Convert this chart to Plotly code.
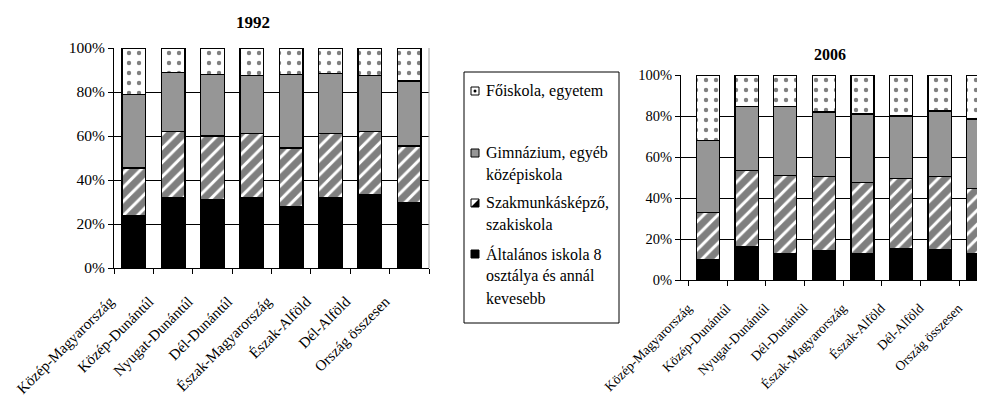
import plotly.graph_objects as go

W, H = 985, 405
OFF = 8  # page body margin in the browser

regions = ["Közép-Magyarország", "Közép-Dunántúl", "Nyugat-Dunántúl", "Dél-Dunántúl",
           "Észak-Magyarország", "Észak-Alföld", "Dél-Alföld", "Ország összesen"]

levels = ["Általános iskola 8 osztálya és annál kevesebb",
          "Szakmunkásképző, szakiskola",
          "Gimnázium, egyéb középiskola",
          "Főiskola, egyetem"]

# 1992 shares (%)
alt_1992 = [24.0, 32.0, 31.0, 32.0, 28.0, 32.0, 33.5, 29.5]
szak_1992 = [21.5, 30.0, 29.0, 29.0, 26.5, 29.0, 28.5, 26.0]
gimn_1992 = [33.5, 27.0, 28.0, 26.5, 33.5, 27.5, 25.5, 29.5]
fois_1992 = [21.0, 11.0, 12.0, 12.5, 12.0, 11.5, 12.5, 15.0]

# 2006 shares (%)
alt_2006 = [10.0, 16.5, 13.0, 14.5, 13.0, 15.5, 15.0, 13.0]
szak_2006 = [23.0, 37.0, 38.0, 36.0, 34.5, 34.0, 35.5, 31.5]
gimn_2006 = [35.0, 31.0, 33.5, 31.5, 33.5, 30.5, 32.0, 34.0]
fois_2006 = [32.0, 15.5, 15.5, 18.0, 19.0, 20.0, 17.5, 21.5]

FONT = "Liberation Serif, Times New Roman, serif"
GRAY = "#969696"

styles = [
    dict(color="black"),
    dict(color="white", pattern=dict(shape="/", fgcolor="black", bgcolor="white", size=10, solidity=0.7)),
    dict(color=GRAY),
    dict(color="white", pattern=dict(shape=".", fgcolor="black", bgcolor="white", size=10, solidity=0.15)),
]

fig = go.Figure()

for axis, series in [("", [alt_1992, szak_1992, gimn_1992, fois_1992]),
                     ("2", [alt_2006, szak_2006, gimn_2006, fois_2006])]:
    for name, vals, st in zip(levels, series, styles):
        fig.add_trace(go.Bar(
            x=regions, y=vals, name=name, showlegend=False,
            xaxis="x" + axis, yaxis="y" + axis,
            marker=dict(line=dict(color="black", width=1.3), **st),
        ))


# window pixel -> paper coordinates
def px(x):
    return (x - OFF) / W


def py(y):
    return 1 - (y - OFF) / H


axis_common = dict(showline=True, linecolor="black", linewidth=1, ticks="outside",
                   tickcolor="black", ticklen=5, automargin=False)

fig.update_layout(
    width=W, height=H,
    margin=dict(l=0, r=0, t=0, b=0, autoexpand=False),
    paper_bgcolor="white", plot_bgcolor="white",
    barmode="stack", bargap=0.4,
    font=dict(family=FONT, color="black"),
    xaxis=dict(domain=[px(114), px(429)], range=[-0.5, 7.5], tickson="boundaries",
               tickangle=-45, tickfont=dict(size=15), ticklabelstandoff=18,
               ticklabelshift=-24, anchor="y", **axis_common),
    yaxis=dict(domain=[py(268), py(48)], range=[0, 100], dtick=20, ticksuffix="%",
               showgrid=True, gridcolor="black", gridwidth=1, tickfont=dict(size=15.5),
               anchor="x", **axis_common),
    xaxis2=dict(domain=[px(681), 1.0], range=[-0.7, 7.38], tickson="boundaries",
                tickangle=-45, tickfont=dict(size=13.5), ticklabelstandoff=14,
                ticklabelshift=-20, anchor="y2", **axis_common),
    yaxis2=dict(domain=[py(280), py(75)], range=[0, 100], dtick=20, ticksuffix="%",
                showgrid=True, gridcolor="black", gridwidth=1, tickfont=dict(size=14.5),
                anchor="x2", **axis_common),
)

# right border of the left plot area
fig.add_shape(type="line", xref="paper", yref="paper", x0=px(429), x1=px(429),
              y0=py(268), y1=py(48), line=dict(color="#a0a0a0", width=1))

fig.add_annotation(text="<b>1992</b>", x=px(253), y=py(23), xref="paper", yref="paper",
                   xanchor="center", yanchor="middle", showarrow=False, font=dict(size=17))
fig.add_annotation(text="<b>2006</b>", x=px(830), y=py(54), xref="paper", yref="paper",
                   xanchor="center", yanchor="middle", showarrow=False, font=dict(size=16))

# legend box
fig.add_shape(type="rect", xref="paper", yref="paper", x0=px(464), x1=px(619),
              y0=py(323), y1=py(72), line=dict(color="black", width=1), fillcolor="white")

legend_lines = [
    ["Főiskola, egyetem"],
    ["Gimnázium, egyéb", "középiskola"],
    ["Szakmunkásképző,", "szakiskola"],
    ["Általános iskola 8", "osztálya és annál", "kevesebb"],
]
legend_y = [91, 153, 203, 254]
for lines, y0 in zip(legend_lines, legend_y):
    for i, t in enumerate(lines):
        fig.add_annotation(text=t, x=px(484), y=py(y0 + 22 * i), xref="paper", yref="paper",
                           xanchor="left", yanchor="middle", showarrow=False,
                           font=dict(size=16))

s = 4
sx = 475
# Főiskola symbol
fig.add_shape(type="rect", xref="paper", yref="paper", x0=px(sx - s), x1=px(sx + s),
              y0=py(91 + s), y1=py(91 - s), line=dict(color="black", width=1), fillcolor="white")
fig.add_shape(type="circle", xref="paper", yref="paper", x0=px(sx - 1.5), x1=px(sx + 1.5),
              y0=py(91 + 1.5), y1=py(91 - 1.5), line=dict(width=0), fillcolor="black")
# Gimnázium symbol
fig.add_shape(type="rect", xref="paper", yref="paper", x0=px(sx - s), x1=px(sx + s),
              y0=py(153 + s), y1=py(153 - s), line=dict(color="black", width=1), fillcolor=GRAY)
# Szakmunkás symbol
fig.add_shape(type="rect", xref="paper", yref="paper", x0=px(sx - s), x1=px(sx + s),
              y0=py(203 + s), y1=py(203 - s), line=dict(color="black", width=1), fillcolor="white")
fig.add_shape(type="path", xref="paper", yref="paper",
              path=f"M {px(sx + s)} {py(203 - s)} L {px(sx + s)} {py(203 + s)} L {px(sx - s)} {py(203 + s)} Z",
              line=dict(width=0), fillcolor="black")
# Általános symbol
fig.add_shape(type="rect", xref="paper", yref="paper", x0=px(sx - s), x1=px(sx + s),
              y0=py(254 + s), y1=py(254 - s), line=dict(color="black", width=1), fillcolor="black")

fig.write_html("out.html")
